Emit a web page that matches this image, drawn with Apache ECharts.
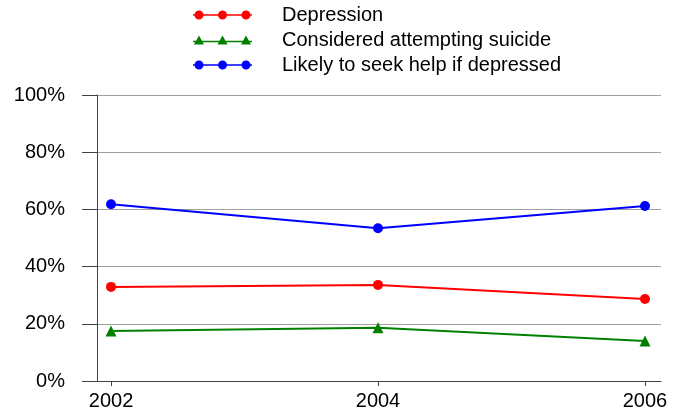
<!DOCTYPE html>
<html>
<head>
<meta charset="utf-8">
<script src="https://cdn.jsdelivr.net/npm/echarts@6/dist/echarts.min.js"></script>
<style>
  html, body { margin: 0; padding: 0; background: #fff; }
  #chart { width: 681px; height: 414px; }
</style>
</head>
<body>
<div id="chart"></div>
<script>
// data
var years = [2002, 2004, 2006];
var depression = [32.9, 33.6, 28.7];
var suicide = [17.5, 18.6, 14.0];
var seekHelp = [61.8, 53.4, 61.2];
var seriesNames = ['Depression', 'Considered attempting suicide', 'Likely to seek help if depressed'];

function pairs(vals) {
  return years.map(function (y, i) { return [y, vals[i]]; });
}

// legend icons: a line with three markers on it
function circleIcon() {
  var p = 'M0,4.25 L59,4.25 L59,5.75 L0,5.75 Z';
  [6, 29.5, 53].forEach(function (cx) {
    p += ' M' + (cx - 4.5) + ',5 A4.5,4.5 0 1,1 ' + (cx + 4.5) + ',5 A4.5,4.5 0 1,1 ' + (cx - 4.5) + ',5 Z';
  });
  return 'path://' + p;
}
function triangleIcon() {
  var p = 'M0,5.75 L59,5.75 L59,7.25 L0,7.25 Z';
  [6, 29.5, 53].forEach(function (cx) {
    p += ' M' + cx + ',0.5 L' + (cx + 5) + ',9.5 L' + (cx - 5) + ',9.5 Z';
  });
  return 'path://' + p;
}

var chart = echarts.init(document.getElementById('chart'));
chart.setOption({
  animation: false,
  textStyle: { fontFamily: 'Liberation Sans, Arial, sans-serif' },
  legend: {
    orient: 'vertical',
    left: 188,
    top: 0,
    itemWidth: 109,
    itemHeight: 9,
    itemGap: 5,
    symbolKeepAspect: true,
    itemStyle: { borderWidth: 0 },
    textStyle: { fontSize: 20, color: '#000' },
    data: [
      { name: seriesNames[0], icon: circleIcon() },
      { name: seriesNames[1], icon: triangleIcon() },
      { name: seriesNames[2], icon: circleIcon() }
    ]
  },
  grid: { left: 97, right: 20, top: 95, bottom: 33 },
  xAxis: {
    type: 'value',
    min: 2001.895,
    max: 2006.12,
    offset: 2,
    splitLine: { show: false },
    axisLine: { lineStyle: { color: '#404040', width: 1 } },
    axisTick: { show: true, length: 5, customValues: years, lineStyle: { color: '#404040' } },
    axisLabel: {
      customValues: years, margin: 8, fontSize: 20, color: '#000',
      formatter: function (v) { return String(Math.round(v)); }
    }
  },
  yAxis: {
    type: 'value',
    min: 0,
    max: 100,
    interval: 20,
    axisLine: { show: true, lineStyle: { color: '#404040', width: 1 } },
    axisTick: { show: true, length: 15, lineStyle: { color: '#404040' } },
    axisLabel: { margin: 32, fontSize: 20, color: '#000', formatter: '{value}%' },
    splitLine: { lineStyle: { color: '#a0a0a0', width: 1 } }
  },
  series: [
    {
      name: seriesNames[0], type: 'line', data: pairs(depression),
      symbol: 'circle', symbolSize: 10,
      itemStyle: { color: '#ff0000' }, lineStyle: { color: '#ff0000', width: 2 }
    },
    {
      name: seriesNames[1], type: 'line', data: pairs(suicide),
      symbol: 'triangle', symbolSize: 11,
      itemStyle: { color: '#008000' }, lineStyle: { color: '#008000', width: 2 }
    },
    {
      name: seriesNames[2], type: 'line', data: pairs(seekHelp),
      symbol: 'circle', symbolSize: 10,
      itemStyle: { color: '#0000ff' }, lineStyle: { color: '#0000ff', width: 2 }
    }
  ]
});
</script>
</body>
</html>
